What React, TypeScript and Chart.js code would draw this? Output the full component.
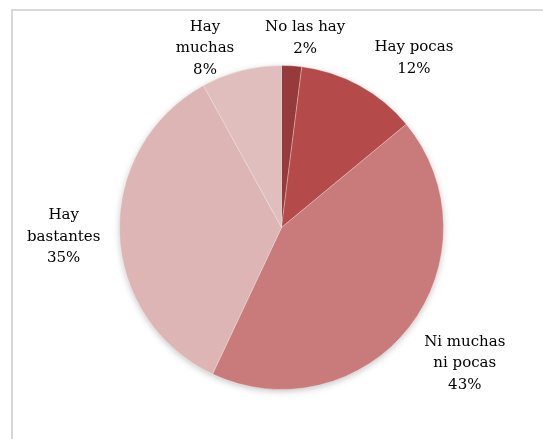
import React, { useEffect, useRef } from "react";
import { Chart, registerables } from "chart.js";

Chart.register(...registerables);

const categories: string[][] = [
  ["No las hay"],
  ["Hay pocas"],
  ["Ni muchas", "ni pocas"],
  ["Hay", "bastantes"],
  ["Hay", "muchas"],
];
const values: number[] = [2, 12, 43, 35, 8];
const percentLabels: string[] = ["2%", "12%", "43%", "35%", "8%"];
const colors: string[] = ["#963a3b", "#b44b4a", "#c97b7b", "#ddb5b5", "#e1bebe"];
// label placement relative to slice: [angle shift in degrees, gap beyond outer edge]
const labelPlacement: number[][] = [
  [3.5, 29],
  [9.2, 53],
  [-1.3, 66],
  [-0.7, 56],
  [-8.7, 33],
];

const FONT = "15px 'DejaVu Serif'";
const LINE_H = 21.5;

const framePlugin = {
  id: "frame",
  beforeDraw(chart: any) {
    const ctx = chart.ctx;
    ctx.save();
    ctx.fillStyle = "#ffffff";
    ctx.fillRect(0, 0, chart.width, chart.height);
    ctx.fillStyle = "#d9d9d9";
    ctx.fillRect(11, 9, 2, chart.height - 9);
    ctx.fillRect(11, 9, chart.width - 11, 2);
    ctx.restore();
  },
};

const shadowPlugin = {
  id: "pieShadow",
  beforeDatasetsDraw(chart: any) {
    const meta = chart.getDatasetMeta(0);
    const arc = meta.data[0];
    if (!arc) return;
    const { x, y, outerRadius } = arc.getProps(["x", "y", "outerRadius"], true);
    const ctx = chart.ctx;
    ctx.save();
    ctx.shadowColor = "rgba(0,0,0,0.25)";
    ctx.shadowBlur = 7;
    ctx.shadowOffsetX = 0;
    ctx.shadowOffsetY = 2;
    ctx.fillStyle = "#dcb4b4";
    ctx.beginPath();
    ctx.arc(x, y, outerRadius - 0.5, 0, Math.PI * 2);
    ctx.fill();
    ctx.restore();
  },
};

const labelPlugin = {
  id: "outerLabels",
  afterDatasetsDraw(chart: any) {
    const meta = chart.getDatasetMeta(0);
    const ctx = chart.ctx;
    ctx.save();
    ctx.font = FONT;
    ctx.fillStyle = "#000000";
    ctx.textAlign = "center";
    ctx.textBaseline = "middle";
    meta.data.forEach((el: any, i: number) => {
      const { x, y, startAngle, endAngle, outerRadius } = el.getProps(
        ["x", "y", "startAngle", "endAngle", "outerRadius"],
        true
      );
      const [shift, gap] = labelPlacement[i];
      const a = (startAngle + endAngle) / 2 + (shift * Math.PI) / 180;
      const r = outerRadius + gap;
      const cx = x + Math.cos(a) * r;
      const cy = y + Math.sin(a) * r;
      const lines = [...categories[i], percentLabels[i]];
      const top = cy - ((lines.length - 1) * LINE_H) / 2;
      lines.forEach((t, k) => ctx.fillText(t, cx, top + k * LINE_H));
    });
    ctx.restore();
  },
};

export default function App() {
  const ref = useRef<HTMLCanvasElement | null>(null);
  useEffect(() => {
    document.body.style.margin = "0";
    document.documentElement.style.overflow = "hidden";
    document.body.style.overflow = "hidden";
    if (!ref.current) return;
    const chart = new Chart(ref.current, {
      type: "pie",
      data: {
        labels: categories.map((c) => c.join(" ")),
        datasets: [
          {
            data: values,
            backgroundColor: colors,
            borderColor: "rgba(255,255,255,0.3)",
            borderWidth: 1,
            hoverOffset: 0,
          },
        ],
      },
      options: {
        animation: false,
        responsive: false,
        maintainAspectRatio: false,
        layout: { padding: { left: 119, right: 99, top: 65, bottom: 49 } },
        plugins: {
          legend: { display: false },
          tooltip: { enabled: false },
        },
      },
      plugins: [framePlugin, shadowPlugin, labelPlugin],
    });
    return () => chart.destroy();
  }, []);
  return (
    <div style={{ position: "fixed", left: 0, top: 0, width: 543, height: 439, overflow: "hidden", background: "#fff" }}>
      <canvas ref={ref} width={543} height={439} style={{ display: "block", width: 543, height: 439 }} />
    </div>
  );
}
